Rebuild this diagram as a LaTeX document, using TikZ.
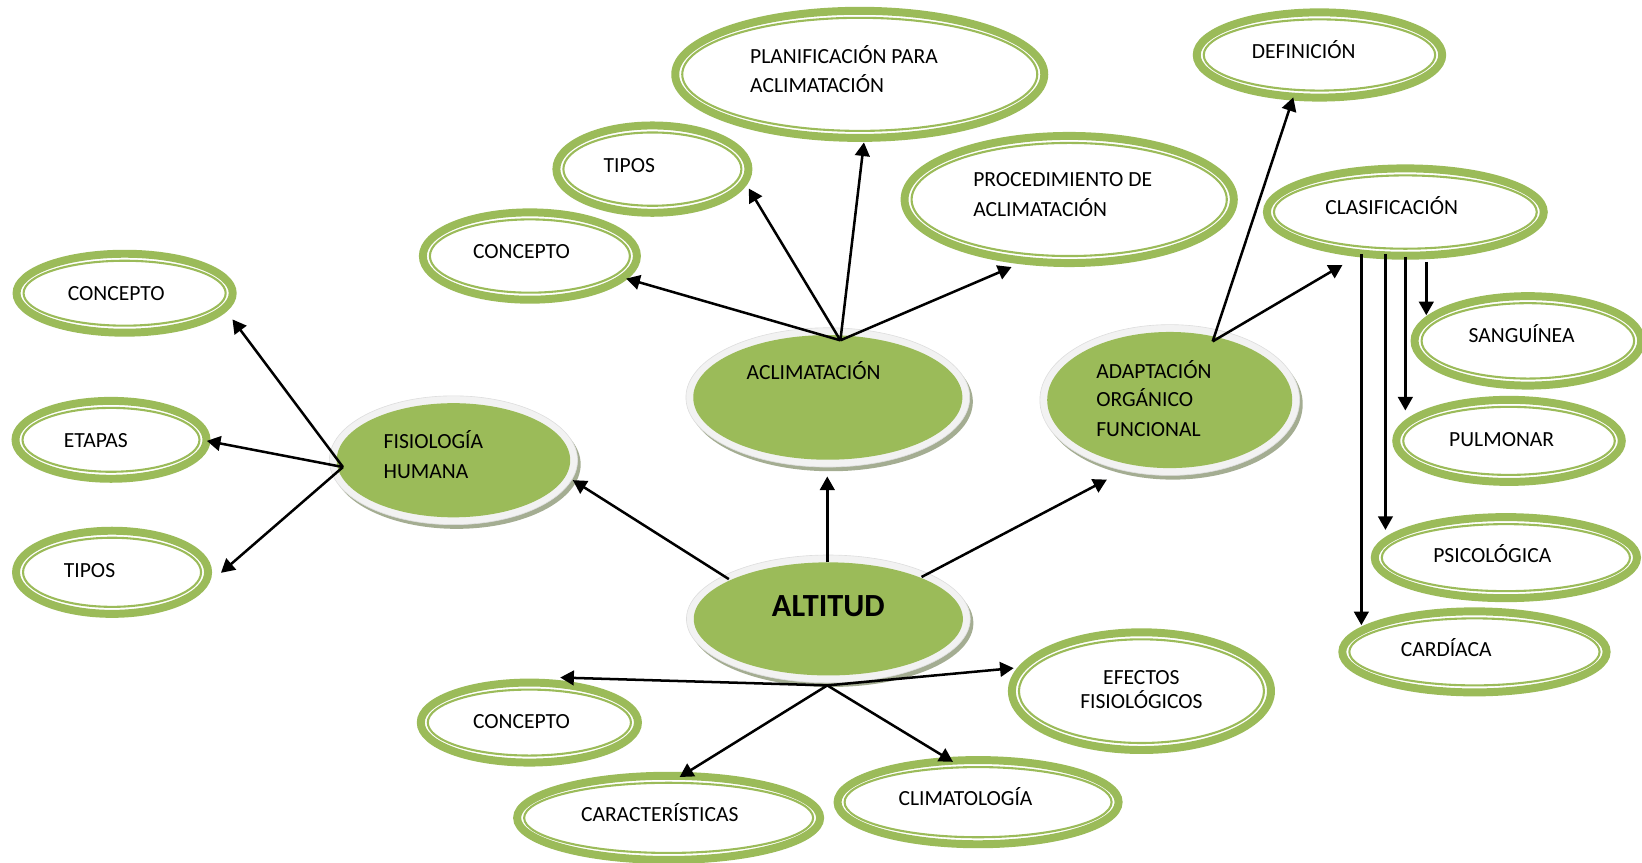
\documentclass[tikz,border=0pt]{standalone}
\usepackage{fontspec}
\setmainfont{Carlito}
\usetikzlibrary{shapes.geometric,arrows.meta}
\definecolor{ogreen}{HTML}{9BBB59}
\definecolor{rimc}{HTML}{F2F2F2}
\definecolor{rimd}{HTML}{DEDEDE}
\definecolor{shadc}{HTML}{A4AD92}
\tikzset{
  ring/.style={ellipse, draw=ogreen, line width=3.8pt, inner sep=0pt, outer sep=0pt},
  ringin/.style={ellipse, draw=ogreen, line width=1pt, inner sep=0pt, outer sep=0pt},
  shadowell/.style={ellipse, fill=shadc, inner sep=0pt, outer sep=0pt},
  rimell/.style={ellipse, fill=rimc, draw=rimd, line width=0.3pt, inner sep=0pt, outer sep=0pt},
  mainell/.style={ellipse, fill=ogreen, inner sep=0pt, outer sep=0pt},
  lbl/.style={font=\fontsize{10.3}{12}\selectfont, inner sep=0pt, anchor=base},
  lbll/.style={lbl, anchor=base west},
  arr/.style={-{Triangle[length=6.5pt,width=7pt]}, line width=1.2pt, draw=black},
}
% double ring: name, x, y, outer-edge rx, outer-edge ry (display units)
\newcommand\dring[5]{%
  \node[ring, minimum width={(#4-3.8)*1pt}, minimum height={(#5-3.8)*1pt}] (#1) at (#2,#3) {};
  \node[ringin, minimum width={(#4-10.5)*1pt}, minimum height={(#5-10.5)*1pt}] (#1-in) at (#2,#3) {};}
% filled 3D ellipse: name, x, y, green rx, green ry
\newcommand\fring[5]{%
  \node[shadowell, minimum width={(#4+7)*1pt}, minimum height={(#5+7)*1pt}] (#1-sh) at (#2+3,#3+4) {};
  \node[rimell, minimum width={(#4+7)*1pt}, minimum height={(#5+7)*1pt}] (#1-rim) at (#2,#3) {};
  \node[mainell, minimum width={#4*1pt}, minimum height={#5*1pt}] (#1) at (#2,#3) {};}
\begin{document}
\begin{tikzpicture}[x=0.5pt,y=-0.5pt]
\useasboundingbox (0,0) rectangle (1568,824);

% ---- double ring ellipses
\dring{c1}{119}{280}{107}{41.5}
\dring{c2}{106}{420}{95}{41}
\dring{c3}{107}{546.5}{95.5}{43.5}
\dring{c4}{506}{244.5}{106}{45.5}
\dring{c5}{623}{161.5}{95.5}{45.5}
\dring{c6}{821}{71}{180}{64.5}
\dring{c7}{1021}{190.5}{161}{64.5}
\dring{c8}{1260}{52.5}{121}{44.5}
\dring{c9}{1342}{202.5}{136}{45.5}
\dring{c10}{1459}{325.5}{112}{46.5}
\dring{c11}{1441}{421}{111.5}{43}
\dring{c12}{1438}{532.5}{129}{42.5}
\dring{c13}{1408}{622.5}{130}{42.5}
\dring{c14}{1090}{660}{127.5}{60}
\dring{c15}{505.5}{690}{107.5}{42}
\dring{c16}{638.5}{781}{148.5}{44}
\dring{c17}{934}{766}{138}{44}

% ---- filled ellipses
\fring{fis}{433}{439.5}{111.5}{54.5}
\fring{acl}{790.5}{379.5}{128.5}{59.5}
\fring{ada}{1117}{382}{117}{65}
\fring{alt}{791}{591}{128.5}{54}

% ---- labels
\node[lbl] (t1) at (111,286.5) {CONCEPTO};
\node[lbl] (t2) at (91.5,427) {ETAPAS};
\node[lbl] (t3) at (85.5,551.5) {TIPOS};
\node[lbl] (t4) at (498,246.5) {CONCEPTO};
\node[lbl] (t5) at (601,164.5) {TIPOS};
\node[lbll] (t6a) at (716,60.5) {PLANIFICACIÓN PARA};
\node[lbll] (t6b) at (716,88.5) {ACLIMATACIÓN};
\node[lbll] (t7a) at (929,178.5) {PROCEDIMIENTO DE};
\node[lbll] (t7b) at (929,206.5) {ACLIMATACIÓN};
\node[lbl] (t8) at (1245,55.5) {DEFINICIÓN};
\node[lbl] (t9) at (1329,204.5) {CLASIFICACIÓN};
\node[lbl] (t10) at (1453,327) {SANGUÍNEA};
\node[lbl] (t11) at (1434,426.5) {PULMONAR};
\node[lbl] (t12) at (1425,537) {PSICOLÓGICA};
\node[lbl] (t13) at (1381,627) {CARDÍACA};
\node[lbl] (t14a) at (1090,654) {EFECTOS};
\node[lbl] (t14b) at (1090,676.5) {FISIOLÓGICOS};
\node[lbl] (t15) at (498,695.5) {CONCEPTO};
\node[lbl] (t16) at (630,784.5) {CARACTERÍSTICAS};
\node[lbl] (t17) at (922,769.5) {CLIMATOLOGÍA};
\node[lbll] (tfa) at (366,428) {FISIOLOGÍA};
\node[lbll] (tfb) at (366,456.5) {HUMANA};
\node[lbl] (tacl) at (777,362.5) {ACLIMATACIÓN};
\node[lbll] (tada) at (1046.5,361) {ADAPTACIÓN};
\node[lbll] (tadb) at (1046.5,388.5) {ORGÁNICO};
\node[lbll] (tadc) at (1046.5,417) {FUNCIONAL};
\node[lbl, font=\fontsize{15.4}{18}\selectfont\bfseries] (talt) at (791,589) {ALTITUD};

% ---- connector points
\coordinate (hfis) at (327.5,446);
\coordinate (hacl) at (802.5,325);
\coordinate (hada) at (1158,326);
\coordinate (hbot) at (790,654.5);
\coordinate (altnw) at (696,553);
\coordinate (altn) at (790,537);
\coordinate (altne) at (880,551);
\coordinate (tc1) at (222,305);
\coordinate (tc2) at (197.5,421);
\coordinate (tc3) at (211,547);
\coordinate (tc4) at (598,266);
\coordinate (tc5) at (715,180);
\coordinate (tc6) at (825,136);
\coordinate (tc7) at (966,255);
\coordinate (tc8) at (1235,93);
\coordinate (tc9) at (1282,253);
\coordinate (tc14) at (968,638);
\coordinate (tc15) at (535,647);
\coordinate (tc16) at (649,742);
\coordinate (tc17) at (910,727.5);
\coordinate (tfis) at (547,458.5);
\coordinate (tacl) at (790,455);
\coordinate (tada) at (1057,458);
\coordinate (v1s) at (1300,243);
\coordinate (v2s) at (1323,243);
\coordinate (v3s) at (1342,245);
\coordinate (v4s) at (1362,250);
\coordinate (v1e) at (1300,597);
\coordinate (v2e) at (1323,506);
\coordinate (v3e) at (1342,392);
\coordinate (v4e) at (1362,301);

% ---- arrows
\draw[arr] (hfis) -- (tc1);
\draw[arr] (hfis) -- (tc2);
\draw[arr] (hfis) -- (tc3);
\draw[arr] (altnw) -- (tfis);
\draw[arr] (altn) -- (tacl);
\draw[arr] (altne) -- (tada);
\draw[arr] (hacl) -- (tc4);
\draw[arr] (hacl) -- (tc5);
\draw[arr] (hacl) -- (tc6);
\draw[arr] (hacl) -- (tc7);
\draw[arr] (hada) -- (tc8);
\draw[arr] (hada) -- (tc9);
\draw[arr] (hbot) -- (tc15);
\draw[arr] (hbot) -- (tc14);
\draw[arr] (hbot) -- (tc16);
\draw[arr] (hbot) -- (tc17);
\draw[arr] (v1s) -- (v1e);
\draw[arr] (v2s) -- (v2e);
\draw[arr] (v3s) -- (v3e);
\draw[arr] (v4s) -- (v4e);
\end{tikzpicture}
\end{document}
